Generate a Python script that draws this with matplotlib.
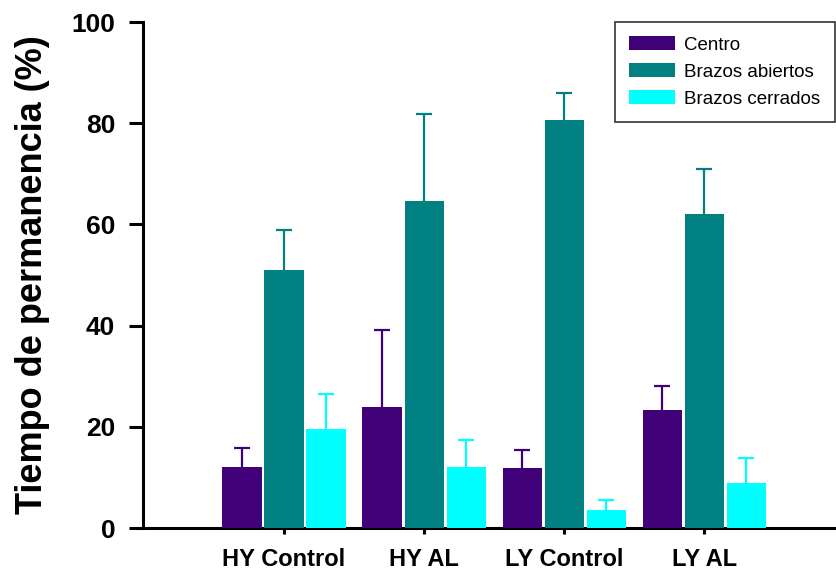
import matplotlib
import numpy as np

import matplotlib.pyplot as plt

matplotlib.use("agg")

groups = ["HY Control", "HY AL", "LY Control", "LY AL"]
series = ["Centro", "Brazos abiertos", "Brazos cerrados"]
centro = [12.0, 24.0, 11.8, 23.3]
centro_err = [3.8, 15.1, 3.7, 4.7]
abiertos = [51.0, 64.7, 80.7, 62.0]
abiertos_err = [8.0, 17.2, 5.3, 9.0]
cerrados = [19.6, 12.0, 3.5, 8.8]
cerrados_err = [6.9, 5.3, 2.0, 5.1]
colors = ["#400078", "#008080", "#00FFFF"]

plt.rcParams["font.family"] = ["Liberation Sans", "DejaVu Sans"]

fig = plt.figure(figsize=(8.36, 5.73), dpi=100)
ax = fig.add_axes([0.171, 0.0785, 0.829, 0.883])

x = np.arange(len(groups))
width = 0.28
offsets = [-0.3, 0.0, 0.3]
for vals, errs, col, lab, off in zip(
    [centro, abiertos, cerrados],
    [centro_err, abiertos_err, cerrados_err],
    colors, series, offsets,
):
    ax.bar(x + off, vals, width, color=col, label=lab, linewidth=0, zorder=3)
    eb = ax.errorbar(
        x + off, vals, yerr=[np.zeros(len(vals)), errs], fmt="none",
        ecolor=col, elinewidth=1.6, capsize=5.5, capthick=1.6, zorder=2,
    )
    # only the upper cap is drawn in the original
    eb[1][0].set_visible(False)

ax.set_xlim(-1.007, 3.94)
ax.set_ylim(0, 100)
ax.set_yticks([0, 20, 40, 60, 80, 100])
ax.set_xticks(x)
ax.set_xticklabels(groups, fontsize=17, fontweight="bold")
for t in ax.get_yticklabels():
    t.set_fontsize(19)
    t.set_fontweight("bold")
ax.set_ylabel("Tiempo de permanencia (%)", fontsize=26, fontweight="bold", labelpad=15)

ax.spines["top"].set_visible(False)
ax.spines["right"].set_visible(False)
ax.spines["left"].set_linewidth(2.2)
ax.spines["bottom"].set_linewidth(2.2)
ax.tick_params(axis="y", length=10, width=2.2, pad=10)
ax.tick_params(axis="x", length=4.5, width=2.2, pad=10)

leg = ax.legend(
    loc="upper right", bbox_to_anchor=(0.998, 1.0), fontsize=13.5, frameon=True,
    fancybox=False, edgecolor="black", handlelength=2.45, handleheight=0.78,
    handletextpad=0.5, labelspacing=0.5, borderaxespad=0, borderpad=0.75,
)
leg.get_frame().set_linewidth(1.2)
leg.set_zorder(5)

fig.savefig("out.png", dpi=100)
